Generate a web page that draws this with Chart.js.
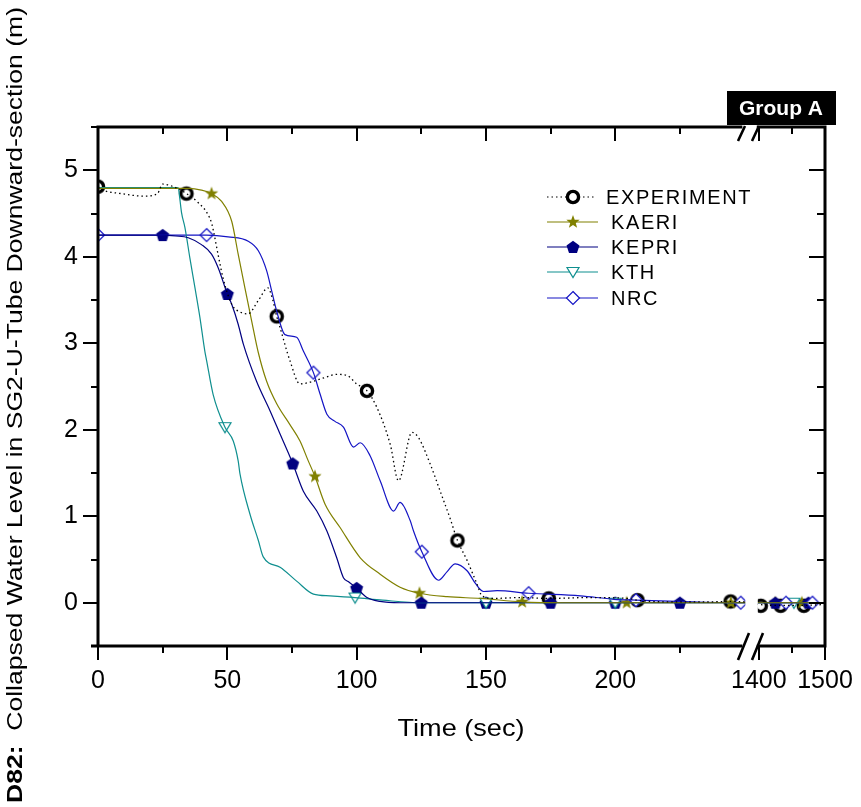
<!DOCTYPE html>
<html>
<head>
<meta charset="utf-8">
<script src="https://cdn.jsdelivr.net/npm/chart.js@4.4.0/dist/chart.umd.min.js"></script>
<style>
  html,body{margin:0;padding:0;background:#fff;}
  canvas{display:block;}
</style>
</head>
<body>
<canvas id="grafico" width="861" height="807"></canvas>
<script>
// --- datos (tiempo en s, nivel en m) ---
const tiempoExp = [0,2,9,18,23,25,30,34.2,38.6,42.5,44,46.4,48.3,51.7,55,58,61.9,65.7,67.5,69.1,70.4,74.2,78.1,82,88.4,92,96.2,100,104,107.8,113,116.2,121.4,123.9,128.5,132.3,136.2,139,142.7,146.5,148.5,153,163,174.3,190,205,208.6,220,235,244.6,250,1400,1433,1468,1500];
const nivelExp  = [4.81,4.77,4.73,4.70,4.73,4.84,4.80,4.73,4.63,4.49,4.38,4.03,3.76,3.45,3.36,3.34,3.49,3.64,3.51,3.31,3.18,2.80,2.53,2.55,2.61,2.64,2.63,2.53,2.45,2.26,1.83,1.41,1.97,1.91,1.60,1.29,0.97,0.72,0.49,0.22,0.08,0.05,0.06,0.05,0.06,0.05,0.03,0.01,0.01,0.015,0.01,-0.02,-0.03,-0.03,-0.02];
const marcaExpT = [0,34.2,69.1,104,139,174.3,208.6,244.6,1403,1433,1468];
const marcaExpV = [4.81,4.73,3.31,2.45,0.72,0.05,0.03,0.015,-0.035,-0.035,-0.035];

const tiempoKaeri = [0,35,40,43.9,47.8,51.7,54.2,56.8,59.4,62,65.2,69.1,74.2,78.1,81.3,83.9,87.8,93.6,101.4,109.1,116.8,124.3,135,147.8,164,180,250,1400,1500];
const nivelKaeri  = [4.79,4.79,4.77,4.73,4.64,4.41,4.03,3.64,3.26,2.89,2.56,2.30,2.06,1.87,1.64,1.46,1.14,0.87,0.52,0.33,0.18,0.11,0.07,0.05,0.01,0,0,0,0];
const marcaKaeriT = [43.9,83.9,124.3,164,204.4,244.7,1425,1465];
const marcaKaeriV = [4.73,1.46,0.11,0.01,0,0,0,0];

const tiempoKepri = [0,25,30,34.9,40,43.9,46.5,50,51.7,54.2,56.2,61.3,66.5,70.4,75.3,79.4,84.6,88.5,92.3,94.9,97,100,104,109,116.8,250,1400,1500];
const nivelKepri  = [4.25,4.25,4.24,4.22,4.14,4.03,3.87,3.57,3.45,3.22,2.99,2.56,2.22,1.95,1.61,1.29,1.06,0.83,0.52,0.29,0.24,0.17,0.06,0.015,0,0,0,0];
const marcaKepriT = [25,50,75.3,100,125,150,175,200,225,1425,1475];
const marcaKepriV = [4.25,3.57,1.61,0.17,0,0,0,0,0,0,0];

const tiempoKth = [0,31,31.6,32.3,33.6,35.5,37.5,39.4,41.3,42,44.5,49.1,52.3,54.2,54.9,58.8,62,63.9,70.4,76.8,83.3,89.7,99.4,110,125,250,1400,1500];
const nivelKth  = [4.80,4.80,4.68,4.51,4.34,3.99,3.64,3.30,2.91,2.80,2.41,2.03,1.87,1.64,1.49,1.02,0.72,0.53,0.41,0.25,0.10,0.08,0.06,0.03,0,0,0,0];
const marcaKthT = [49.1,99.4,150,200,1453];
const marcaKthV = [2.03,0.06,0,0,0];

const tiempoNrc = [0,42,50.3,58.1,62,65.2,67.2,69.1,72.3,76.8,79.4,83.3,85.9,88.5,91.5,94.9,98.8,101.4,105.2,109.1,114.3,116.8,120.7,122,125.2,131.7,135,138.1,142.7,146,149.1,154.3,166.5,186.5,199.5,208,230,250,1400,1500];
const nivelNrc  = [4.25,4.25,4.23,4.18,4.07,3.84,3.60,3.37,3.10,3.07,2.91,2.66,2.41,2.18,2.10,2.03,1.80,1.85,1.70,1.41,1.06,1.16,0.95,0.83,0.59,0.26,0.36,0.45,0.37,0.22,0.13,0.14,0.11,0.08,0.04,0.03,0.01,0,0,0];
const marcaNrcT = [0,42,83.3,125.2,166.5,208,248.5,1441,1481];
const marcaNrcV = [4.25,4.25,2.66,0.59,0.11,0.03,0,0,0];

const ticksX = [0,50,100,150,200,1400,1500];
const ticksXmenores = [25,75,125,175,225,1450];
const ticksY = [0,1,2,3,4,5];

// eje partido: 0-250 s, corte, 1400-1500 s
const FIN1 = 250, HUECO = 5.5, INI2 = 1400, ESC2 = 0.256;
function ejeX(t){
  return t <= FIN1 ? t : FIN1 + HUECO + (t - INI2) * ESC2;
}
const maxX = ejeX(1500);

// --- marcadores ---
function marca(tipo, color){
  const c = document.createElement('canvas');
  c.width = 20; c.height = 20;
  const g = c.getContext('2d');
  g.translate(10,10);
  g.beginPath();
  if(tipo==='circulo'){
    g.arc(0,0,5.6,0,Math.PI*2);
    g.fillStyle='#fff'; g.fill();
    g.lineWidth=3.4; g.strokeStyle=color; g.stroke();
    return c;
  }
  if(tipo==='estrella'){
    for(let i=0;i<10;i++){
      const r = i%2 ? 2.9 : 7;
      const a = -Math.PI/2 + i*Math.PI/5;
      g.lineTo(r*Math.cos(a), r*Math.sin(a));
    }
    g.closePath(); g.fillStyle=color; g.fill();
    return c;
  }
  if(tipo==='pentagono'){
    for(let i=0;i<5;i++){
      const a = -Math.PI/2 + i*2*Math.PI/5;
      g.lineTo(6.8*Math.cos(a), 6.8*Math.sin(a)+0.6);
    }
    g.closePath(); g.fillStyle=color; g.fill();
    return c;
  }
  if(tipo==='triangulo'){
    g.moveTo(-6,-4.5); g.lineTo(6,-4.5); g.lineTo(0,5.5); g.closePath();
  }else{ // rombo
    g.moveTo(0,-6.5); g.lineTo(6.5,0); g.lineTo(0,6.5); g.lineTo(-6.5,0); g.closePath();
  }
  g.fillStyle='#fff'; g.fill();
  g.lineWidth=1.2; g.strokeStyle=color; g.stroke();
  return c;
}

const series = [
  {label:'EXPERIMENT', color:'#000000', dash:[1.5,3], t:tiempoExp, v:nivelExp, mt:marcaExpT, mv:marcaExpV, img:marca('circulo','#000')},
  {label:'KAERI', color:'#808000', dash:[], t:tiempoKaeri, v:nivelKaeri, mt:marcaKaeriT, mv:marcaKaeriV, img:marca('estrella','#808000')},
  {label:'KEPRI', color:'#000080', dash:[], t:tiempoKepri, v:nivelKepri, mt:marcaKepriT, mv:marcaKepriV, img:marca('pentagono','#000080')},
  {label:'KTH', color:'#0f8f8f', dash:[], t:tiempoKth, v:nivelKth, mt:marcaKthT, mv:marcaKthV, img:marca('triangulo','#0f8f8f')},
  {label:'NRC', color:'#1414c4', dash:[], t:tiempoNrc, v:nivelNrc, mt:marcaNrcT, mv:marcaNrcV, img:marca('rombo','#1414c4')}
];

const datasets = [];
series.forEach(s=>{
  datasets.push({
    label:s.label,
    data:s.t.map((t,i)=>({x:ejeX(t), y:s.v[i]})),
    borderColor:s.color, borderWidth:s.label==='EXPERIMENT'?1.3:1.2, borderDash:s.dash,
    pointRadius:0, cubicInterpolationMode:'monotone', clip:0, fill:false
  });
});
// marcadores encima de las líneas
series.slice().reverse().forEach(s=>{
  datasets.push({
    label:s.label+'_m',
    data:s.mt.map((t,i)=>({x:ejeX(t), y:s.mv[i]})),
    showLine:false, pointStyle:s.img, pointRadius:7, clip:0
  });
});

const negro = '#000';

const marco = {
  id:'marco',
  afterDatasetsDraw(chart){
    const {ctx, chartArea:a, scales:{x, y}} = chart;
    const corteI = x.getPixelForValue(FIN1) + 0.8;
    const corteD = x.getPixelForValue(ejeX(INI2)) - 1;
    ctx.save();
    // hueco del corte
    ctx.fillStyle='#fff';
    ctx.fillRect(corteI, a.top-2, corteD-corteI, a.bottom-a.top+4);

    ctx.strokeStyle=negro; ctx.lineCap='butt';
    ctx.lineWidth=3;
    ctx.beginPath();
    ctx.moveTo(a.left, a.top); ctx.lineTo(a.left, a.bottom);
    ctx.moveTo(a.right, a.top-1.5); ctx.lineTo(a.right, a.bottom+1.5);
    ctx.moveTo(a.left-7, a.bottom); ctx.lineTo(corteI-3, a.bottom);
    ctx.moveTo(corteD-1, a.bottom); ctx.lineTo(a.right, a.bottom);
    ctx.moveTo(a.left-1.5, a.top); ctx.lineTo(corteI-3, a.top);
    ctx.moveTo(corteD-1, a.top); ctx.lineTo(a.right, a.top);
    ctx.stroke();

    // marcas //
    ctx.lineWidth=2.6;
    ctx.beginPath();
    [0,14].forEach(d=>{
      ctx.moveTo(738+d, a.bottom+14); ctx.lineTo(749+d, a.bottom-13);
      ctx.moveTo(738+d, a.top+14); ctx.lineTo(745+d, a.top-1);
    });
    ctx.stroke();

    // ticks
    ctx.lineWidth=2;
    ctx.beginPath();
    const tx = (t,l)=>{
      const p = Math.round(x.getPixelForValue(ejeX(t)));
      ctx.moveTo(p, a.bottom); ctx.lineTo(p, a.bottom+l);
      ctx.moveTo(p, a.top); ctx.lineTo(p, a.top+l);
    };
    ticksX.forEach(t=>tx(t,14));
    ticksXmenores.forEach(t=>tx(t,7));
    const ty = (v,l,r)=>{
      const p = Math.round(y.getPixelForValue(v));
      ctx.moveTo(a.left, p); ctx.lineTo(a.left-l, p);
      ctx.moveTo(a.right, p); ctx.lineTo(a.right-r, p);
    };
    ticksY.forEach(v=>ty(v,15,16));
    ticksY.concat([-1]).forEach(v=>ty(v+0.5,7,8));
    ctx.stroke();
    ctx.restore();
  },
  afterDraw(chart){
    const ctx = chart.ctx;
    ctx.save();
    // leyenda
    const filas = [197,222,247,272,298];
    series.forEach((s,i)=>{
      const yy = filas[i];
      ctx.strokeStyle=s.color; ctx.lineWidth=1.2;
      ctx.setLineDash(s.dash);
      ctx.beginPath();
      ctx.moveTo(547, yy); ctx.lineTo(i===0?594:598, yy);
      ctx.stroke();
      ctx.setLineDash([]);
      ctx.drawImage(s.img, 573-10, yy-10);
      ctx.fillStyle=negro;
      ctx.font='20px "Liberation Sans", Arial, sans-serif';
      ctx.letterSpacing='1.6px';
      ctx.textBaseline='middle'; ctx.textAlign='left';
      ctx.fillText(s.label, i===0?606:611, yy+1);
    });
    ctx.letterSpacing='0px';

    // caja Group A
    ctx.fillStyle=negro;
    ctx.fillRect(727, 91, 109, 34);
    ctx.fillStyle='#fff';
    ctx.font='bold 21px "Liberation Sans", Arial, sans-serif';
    ctx.textAlign='center'; ctx.textBaseline='middle';
    ctx.fillText('Group A', 781, 109);

    // titulo eje X
    ctx.fillStyle=negro;
    ctx.font='24px "Liberation Sans", Arial, sans-serif';
    ctx.textAlign='center'; ctx.textBaseline='alphabetic';
    ctx.save();
    ctx.translate(461, 736);
    ctx.scale(1.13,1);
    ctx.fillText('Time (sec)', 0, 0);
    ctx.restore();

    // titulo eje Y (rotado)
    const negrita='bold 22px "Liberation Sans", Arial, sans-serif';
    const normal='22px "Liberation Sans", Arial, sans-serif';
    const t1='D82:', t2='  Collapsed Water Level in SG2-U-Tube Downward-section (m)';
    ctx.font=negrita; const w1=ctx.measureText(t1).width;
    ctx.font=normal; const w2=ctx.measureText(t2).width;
    const esc = 796/(w1+w2);
    ctx.save();
    ctx.translate(22, 803);
    ctx.rotate(-Math.PI/2);
    ctx.scale(esc,1);
    ctx.textAlign='left';
    ctx.font=negrita; ctx.fillText(t1, 0, 0);
    ctx.font=normal; ctx.fillText(t2, w1, 0);
    ctx.restore();
    ctx.restore();
  }
};

new Chart(document.getElementById('grafico'), {
  type:'line',
  data:{datasets},
  options:{
    responsive:false, animation:false, devicePixelRatio:1,
    layout:{padding:{left:0, right:36, top:127, bottom:0}},
    plugins:{legend:{display:false}, tooltip:{enabled:false}},
    scales:{
      x:{
        type:'linear', min:0, max:maxX,
        grid:{display:false, drawTicks:false}, border:{display:false},
        afterBuildTicks:sc=>{ sc.ticks = ticksX.map(t=>({value:ejeX(t)})); },
        afterFit:sc=>{ sc.height = 161; sc.paddingLeft = 0; sc.paddingRight = 0; },
        ticks:{
          autoSkip:false, maxRotation:0, padding:20, color:negro,
          font:{family:'"Liberation Sans", Arial, sans-serif', size:25},
          callback:(v,i)=>String(ticksX[i])
        }
      },
      y:{
        type:'linear', min:-0.5, max:5.5,
        grid:{display:false, drawTicks:false}, border:{display:false},
        afterBuildTicks:sc=>{ sc.ticks = ticksY.map(v=>({value:v})); },
        afterFit:sc=>{ sc.width = 98; sc.paddingTop = 0; sc.paddingBottom = 0; },
        ticks:{
          padding:20, color:negro,
          font:{family:'"Liberation Sans", Arial, sans-serif', size:25},
          callback:v=>String(v)
        }
      }
    }
  },
  plugins:[marco]
});
</script>
</body>
</html>
